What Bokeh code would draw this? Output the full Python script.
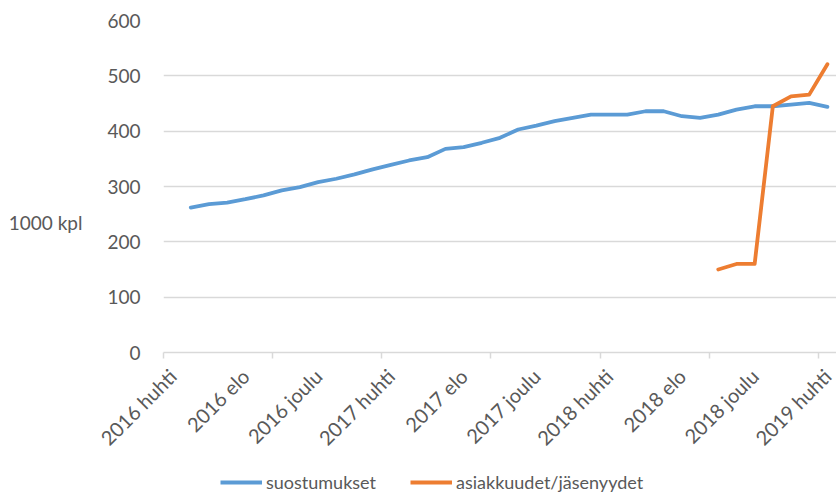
from bokeh.plotting import figure
from bokeh.layouts import column
from bokeh.models import (Range1d, FixedTicker, Legend, LegendItem, LinearAxis,
                          ColumnDataSource)
from bokeh.embed import file_html
from bokeh.resources import INLINE
import math

months = [
    "2016 huhti", "2016 touko", "2016 kesä", "2016 heinä", "2016 elo", "2016 syys",
    "2016 loka", "2016 marras", "2016 joulu", "2017 tammi", "2017 helmi", "2017 maalis",
    "2017 huhti", "2017 touko", "2017 kesä", "2017 heinä", "2017 elo", "2017 syys",
    "2017 loka", "2017 marras", "2017 joulu", "2018 tammi", "2018 helmi", "2018 maalis",
    "2018 huhti", "2018 touko", "2018 kesä", "2018 heinä", "2018 elo", "2018 syys",
    "2018 loka", "2018 marras", "2018 joulu", "2019 tammi", "2019 helmi", "2019 maalis",
    "2019 huhti",
]

# suostumukset: 2016 touko .. 2019 huhti (1000 kpl)
suostumukset = [262, 268, 271, 277, 284, 293, 299, 308, 314, 322, 331, 339,
                347, 353, 368, 371, 379, 388, 403, 410, 418, 424, 430, 430,
                430, 436, 436, 427, 424, 430, 439, 445, 445, 448, 451, 444]
suostumukset_start = "2016 touko"

# asiakkuudet/jäsenyydet: 2018 loka .. 2019 huhti (1000 kpl)
asiakkuudet = [150, 160, 160, 445, 463, 466, 521]
asiakkuudet_start = "2018 loka"

label_months = months[::4]
y_ticks = [0, 100, 200, 300, 400, 500, 600]
y_title = "1000 kpl"
y_title_at = 235

i0 = months.index(suostumukset_start)
src_blue = ColumnDataSource(dict(x=list(range(i0, i0 + len(suostumukset))), y=suostumukset))
j0 = months.index(asiakkuudet_start)
src_orange = ColumnDataSource(dict(x=list(range(j0, j0 + len(asiakkuudet))), y=asiakkuudet))

FONT = "Lato"
GRAY = "#595959"
GRID = "#d9d9d9"
BLUE = "#5b9bd5"
ORANGE = "#ed7d31"
LW = 3.8

p = figure(width=836, height=472, output_backend="svg", toolbar_location=None,
           x_range=Range1d(-0.5, len(months) - 0.5), y_range=Range1d(0, 600),
           min_border_left=163, min_border_right=0, min_border_top=20, min_border_bottom=120)
p.outline_line_color = None

p.line("x", "y", source=src_blue, line_color=BLUE, line_width=LW,
       line_cap="round", line_join="round")
p.line("x", "y", source=src_orange, line_color=ORANGE, line_width=LW,
       line_cap="round", line_join="round")

# x axis
major = [months.index(m) for m in label_months]
minor = [k - 0.5 for k in range(0, len(months) + 1, 6)]
p.xaxis.ticker = FixedTicker(ticks=major, minor_ticks=minor)
p.xaxis.major_label_overrides = {k: months[k] for k in major}
p.xaxis.major_label_orientation = math.pi / 4
p.xaxis.major_tick_line_color = None
p.xaxis.minor_tick_line_color = GRID
p.xaxis.minor_tick_in = 0
p.xaxis.minor_tick_out = 6
p.xaxis.minor_tick_line_width = 1.5
p.xaxis.axis_line_color = GRID
p.xaxis.axis_line_width = 1.5
p.xaxis.major_label_text_font = FONT
p.xaxis.major_label_text_font_size = "20px"
p.xaxis.major_label_text_color = GRAY
p.xaxis.major_label_standoff = 14
p.xgrid.grid_line_color = None

# y axis
p.yaxis.ticker = FixedTicker(ticks=y_ticks)
p.yaxis.axis_line_color = None
p.yaxis.major_tick_line_color = None
p.yaxis.minor_tick_line_color = None
p.yaxis.major_label_text_font = FONT
p.yaxis.major_label_text_font_size = "19px"
p.yaxis.major_label_text_color = GRAY
p.yaxis.major_label_standoff = 17
p.ygrid.grid_line_color = GRID
p.ygrid.grid_line_width = 1.5

# horizontal y-axis title as an extra outer axis
title_axis = LinearAxis(ticker=FixedTicker(ticks=[y_title_at]),
                        major_label_overrides={y_title_at: y_title},
                        axis_line_color=None, major_tick_line_color=None,
                        minor_tick_line_color=None, major_label_standoff=16,
                        major_label_text_font=FONT, major_label_text_font_size="19px",
                        major_label_text_color=GRAY)
p.add_layout(title_axis, "left")

# legend strip (its frame is aligned with the chart frame by the column layout)
lg = figure(width=836, height=21, output_backend="svg", toolbar_location=None,
            x_range=Range1d(0, 1), y_range=Range1d(0, 1),
            x_axis_location=None, y_axis_location=None,
            min_border_left=163, min_border_right=0, min_border_top=0, min_border_bottom=0)
lg.outline_line_color = None
lg.grid.grid_line_color = None
d1 = lg.line(x=[-10, -9], y=[-10, -10], line_color=BLUE, line_width=LW)
d2 = lg.line(x=[-10, -9], y=[-10, -10], line_color=ORANGE, line_width=LW)
legend = Legend(items=[LegendItem(label="suostumukset", renderers=[d1]),
                       LegendItem(label="asiakkuudet/jäsenyydet", renderers=[d2])],
                orientation="horizontal", location=(57, 0),
                glyph_width=42, glyph_height=18, label_height=18, label_standoff=4, spacing=34,
                padding=0, margin=0, border_line_color=None, background_fill_alpha=0,
                label_text_font=FONT, label_text_font_size="18px", label_text_color=GRAY)
lg.add_layout(legend, "center")

open("out.html", "w").write(file_html(column(p, lg, spacing=0), INLINE))
